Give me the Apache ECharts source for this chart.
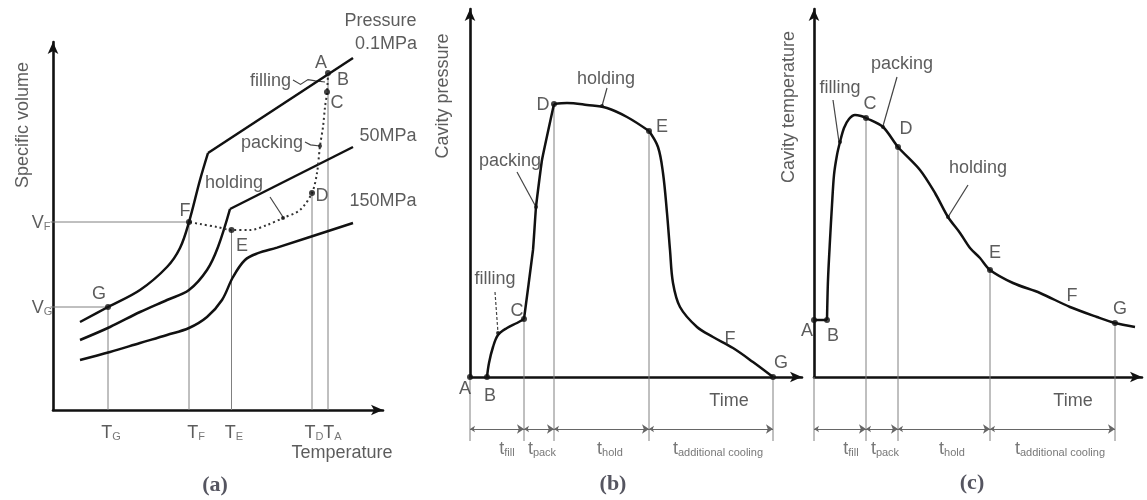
<!DOCTYPE html>
<html>
<head>
<meta charset="utf-8">
<script src="https://cdn.jsdelivr.net/npm/echarts@6/dist/echarts.min.js"></script>
<style>html,body{margin:0;padding:0;background:#fff}#c{width:1147px;height:500px}</style>
</head>
<body>
<div id="c"></div>
<script>
// ---------- Panel (a): specific volume vs temperature ----------
const aCurve01Low  = [[10.8,22],[22,25.75],[34.8,30],[45.6,35.75],[50.8,40.5],[54.4,47],[58.8,57.5],[62,64.25]];
const aCurve01High = [[62,64.25],[120,88]];
const aCurve50Low  = [[10.8,17.5],[22.8,20.75],[34.8,24.5],[45.6,27.5],[54.4,30],[61.6,35],[66,40.75],[70.8,50.25]];
const aCurve50High = [[70.8,50.25],[120,65.75]];
const aCurve150    = [[10.8,12.5],[22.8,14.5],[34.8,16.75],[45.6,18.75],[54.4,20.5],[61.6,23.25],[67.6,27.5],[72,33.25],[76.8,37.5],[82,39.2],[89.6,40.6],[120,46.75]];
const aProcessPath = [[110,84.25],[109.6,79.25],[108.8,75.75],[108,70.75],[106.8,66],[105.6,59.25],[103.6,54.25],[98.8,50],[92,48],[85.6,46.25],[78.8,45],[71.4,45],[65.6,45.75],[58.8,46.5],[54.4,47]];
const aPoints      = [[110,84.25],[109.6,79.5],[103.6,54.25],[71.4,45],[54.4,47],[22,25.75]];
const aSmallPoints = [[106.8,66],[92,48]];
const aGuides      = [[[22,25.75],[22,0]],[[54.4,47],[54.4,0]],[[71.4,45],[71.4,0]],[[103.6,54.25],[103.6,0]],[[110,84.25],[110,0]],[[-1,47],[54.4,47]],[[-1,25.75],[22,25.75]]];
const aLeaders     = [[[96,82.5],[99,81.4],[102,82.6],[105,82.3],[108.8,82]],[[100.8,67],[103,66.3],[106.8,66]],[[86.8,53.25],[92,48.25]]];
const aTexts = [
  [131,97.5,'Pressure'],[133.2,91.75,'0.1MPa'],[134,68.75,'50MPa'],[132,52.5,'150MPa'],
  [107.2,87,'A'],[116,82.75,'B'],[113.6,77,'C'],[107.6,53.75,'D'],[75.6,41.25,'E'],[52.8,50,'F'],[18.4,29.25,'G'],
  [87,82.5,'filling'],[87.6,67,'packing'],[72.4,57,'holding'],
  [-4.8,47,'V_F'],[-4.4,25.75,'V_G'],
  [23.2,-5.5,'T_G'],[57.2,-5.5,'T_F'],[72.4,-5.5,'T_E'],[104.4,-5.5,'T_D'],[111.8,-5.5,'T_A'],
  [115.6,-10.5,'Temperature']
];
const aTitle = [-12.4,71.25,'Specific volume'];
const aCaption = [64.8,-18.75,'(a)'];

// ---------- Panel (b): cavity pressure vs time ----------
const bFilling = [[4.25,0],[4.75,3.5],[5.75,7.5],[7,10.5],[9.25,12.25],[11.75,13.5],[13.5,14.5]];
const bPacking = [[13.5,14.5],[15.75,31.75],[16.5,42.5],[18,54.25],[21,68.25]];
const bHolding = [[21,68.25],[24.25,68.5],[29.25,68],[34.25,67.25],[39.25,65],[44.75,61.5]];
const bCooling = [[44.75,61.5],[47,57.5],[48.25,51],[49.25,41],[50,31.75],[50.75,23.5],[52.5,17.5],[56.75,12.5],[60.75,10],[65.75,7.25],[70.75,3.75],[75.75,0]];
const bPoints  = [[0,0],[4.25,0],[13.5,14.5],[21,68.25],[44.75,61.5],[75.75,0]];
const bSmallPoints = [[7,11],[16.5,42.5],[33,67.75]];
const bGuides  = [[[0,0],[0,-16]],[[13.5,14.5],[13.5,-16]],[[21,68.25],[21,-16]],[[44.75,61.5],[44.75,-16]],[[75.75,0],[75.75,-16]]];
const bSpans   = [[0,13.5],[13.5,21],[21,44.75],[44.75,75.75]];
const bLeaders = [[[34.25,72.25],[33,67.75]],[[11.75,51.25],[16.5,42.5]]];
const bDashedLeaders = [[[6.25,21.25],[7,11]]];
const bTexts = [
  [34,74.75,'holding'],[18.25,68.25,'D'],[48,62.75,'E'],[10,54.25,'packing'],[6.25,24.75,'filling'],
  [11.75,16.75,'C'],[65,9.75,'F'],[77.75,3.75,'G'],[-1.25,-2.75,'A'],[5,-4.5,'B'],[64.75,-5.75,'Time'],
  [9.25,-17.75,'t_fill'],[18,-17.75,'t_pack'],[35,-17.75,'t_hold'],[62,-17.75,'t_additional cooling']
];
const bTitle = [-7,70.25,'Cavity pressure'];
const bCaption = [35.75,-26.75,'(b)'];

// ---------- Panel (c): cavity temperature vs time ----------
const cStart = [[0,14.25],[3.25,14.25]];
const cCurve = [[3.25,14.25],[3.5,24.25],[4,34.25],[4.5,43],[5,50.5],[5.75,55.5],[6.5,58.75],[7.5,62.25],[8.75,64.5],[10.25,65.5],[11.75,65.25],[13,64.75],[17.25,62.5],[21,57.5],[26.5,51.75],[30.25,46],[33.5,40],[36.5,36],[39,32.25],[41.5,29.75],[44,26.75],[49.75,23.5],[56.5,21],[64,17.5],[70.75,15],[75.25,13.5],[80.25,12.5]];
const cPoints = [[0,14.25],[3.25,14.25],[13,64.75],[21,57.5],[44,26.75],[75.25,13.5]];
const cSmallPoints = [[6.5,58.75],[17.25,62.5],[33.5,40]];
const cGuides = [[[0,0],[0,-16]],[[13,64.75],[13,-16]],[[21,57.5],[21,-16]],[[44,26.75],[44,-16]],[[75.25,13.5],[75.25,-16]]];
const cSpans  = [[0,13],[13,21],[21,44],[44,75.25]];
const cLeaders = [[[4.75,69.25],[6.25,58.75]],[[20.75,75],[17.25,62.75]],[[38.5,48],[33.5,40]]];
const cTexts = [
  [6.5,72.5,'filling'],[22,78.5,'packing'],[14,68.5,'C'],[23,62.25,'D'],[41,52.5,'holding'],
  [45.25,31.25,'E'],[64.5,20.5,'F'],[76.5,17.25,'G'],[-1.75,11.75,'A'],[4.75,10.5,'B'],[64.75,-5.75,'Time'],
  [9.25,-17.75,'t_fill'],[17.75,-17.75,'t_pack'],[34.5,-17.75,'t_hold'],[61.5,-17.75,'t_additional cooling']
];
const cTitle = [-6.5,67.5,'Cavity temperature'];
const cCaption = [39.5,-26.5,'(c)'];

// ---------- build ----------
const FONT = 'Liberation Sans, Arial, sans-serif';
const TXT = '#333';
const INK = '#111';
const GUIDE = '#808080';

const rich = {
  m: {fontSize: 18, fontFamily: FONT, color: TXT, lineHeight: 21, verticalAlign: 'bottom'},
  s: {fontSize: 11, fontFamily: FONT, color: '#555', lineHeight: 12, padding: [9, 0, 0, 0], verticalAlign: 'bottom'},
  t: {fontSize: 18, fontFamily: FONT, color: '#555', lineHeight: 21, verticalAlign: 'bottom'}
};
function fmt(name) {
  const i = name.indexOf('_');
  if (i < 0) return '{m|' + name + '}';
  const main = name.slice(0, i), sub = name.slice(i + 1);
  return (main === 't' ? '{t|' : '{m|') + main + '}{s|' + sub + '}';
}

function axes(i, xmax, ymax) {
  const line = {show: true, onZero: false, lineStyle: {color: INK, width: 2.6}, symbol: ['none', 'arrow'], symbolSize: [8, 12]};
  return {
    x: {gridIndex: i, type: 'value', min: 0, max: xmax, axisLine: line, axisTick: {show: false}, axisLabel: {show: false}, splitLine: {show: false}},
    y: {gridIndex: i, type: 'value', min: 0, max: ymax, axisLine: line, axisTick: {show: false}, axisLabel: {show: false}, splitLine: {show: false}}
  };
}

const series = [];
function curve(i, data, opt) {
  series.push(Object.assign({
    type: 'line', xAxisIndex: i, yAxisIndex: i, data: data, symbol: 'none', clip: false, silent: true,
    smooth: 0.35, lineStyle: {color: INK, width: 2.5}, z: 5
  }, opt || {}));
}
function segs(i, list, style, extra) {
  series.push(Object.assign({
    type: 'lines', coordinateSystem: 'cartesian2d', xAxisIndex: i, yAxisIndex: i, polyline: true, clip: false, silent: true,
    data: list.map(c => ({coords: c})), lineStyle: Object.assign({color: GUIDE, width: 1, opacity: 1}, style), z: 3
  }, extra || {}));
}
function dots(i, data, size) {
  series.push({type: 'scatter', xAxisIndex: i, yAxisIndex: i, data: data, symbol: 'circle', symbolSize: size,
    itemStyle: {color: INK}, clip: false, silent: true, z: 6});
}
function texts(i, list, title, caption) {
  const data = list.map(t => ({value: [t[0], t[1]], name: t[2]}));
  data.push({value: [title[0], title[1]], name: title[2], label: {rotate: 90}});
  series.push({type: 'scatter', xAxisIndex: i, yAxisIndex: i, data: data, symbolSize: 0, clip: false, silent: true, z: 7,
    label: {show: true, position: 'inside', align: 'center', verticalAlign: 'middle', formatter: p => fmt(p.name), rich: rich}});
  series.push({type: 'scatter', xAxisIndex: i, yAxisIndex: i, data: [{value: [caption[0], caption[1]], name: caption[2]}],
    symbolSize: 0, clip: false, silent: true, z: 7,
    label: {show: true, position: 'inside', formatter: p => p.name, fontSize: 22, fontWeight: 'bold', fontFamily: 'Liberation Serif, serif', color: '#2a2a38'}});
}
function spans(i, list) {
  segs(i, list.map(s => [[s[0], -13], [s[1], -13]]), {color: '#666', width: 1},
    {symbol: ['arrow', 'arrow'], symbolSize: [5, 7], polyline: false});
}

// panel a
curve(0, aCurve01Low); curve(0, aCurve01High, {smooth: false});
curve(0, aCurve50Low); curve(0, aCurve50High, {smooth: false});
curve(0, aCurve150);
curve(0, aProcessPath, {lineStyle: {color: '#333', width: 2, type: [2, 3]}, smooth: 0.3});
segs(0, aGuides, {});
segs(0, aLeaders, {color: '#444', width: 1.2});
dots(0, aPoints, 6); dots(0, aSmallPoints, 4);
texts(0, aTexts, aTitle, aCaption);

// panel b
curve(1, bFilling); curve(1, bPacking, {smooth: 0.1}); curve(1, bHolding); curve(1, bCooling);
segs(1, bGuides, {}); spans(1, bSpans);
segs(1, bLeaders, {color: '#444', width: 1.2});
segs(1, bDashedLeaders, {color: '#444', width: 1.2, type: [3, 2]});
dots(1, bPoints, 6); dots(1, bSmallPoints, 4);
texts(1, bTexts, bTitle, bCaption);

// panel c
curve(2, cStart, {smooth: false}); curve(2, cCurve, {smooth: 0.3});
segs(2, cGuides, {}); spans(2, cSpans);
segs(2, cLeaders, {color: '#444', width: 1.2});
dots(2, cPoints, 6); dots(2, cSmallPoints, 4);
texts(2, cTexts, cTitle, cCaption);

const A = axes(0, 132, 92), B = axes(1, 83, 92), C = axes(2, 82, 92);
const chart = echarts.init(document.getElementById('c'), null, {renderer: 'canvas'});
chart.setOption({
  animation: false,
  backgroundColor: '#fff',
  grid: [
    {left: 53, top: 42, width: 330, height: 368},
    {left: 470, top: 9, width: 332, height: 368},
    {left: 814, top: 9, width: 328, height: 368}
  ],
  xAxis: [A.x, B.x, C.x],
  yAxis: [A.y, B.y, C.y],
  series: series
});
</script>
</body>
</html>
